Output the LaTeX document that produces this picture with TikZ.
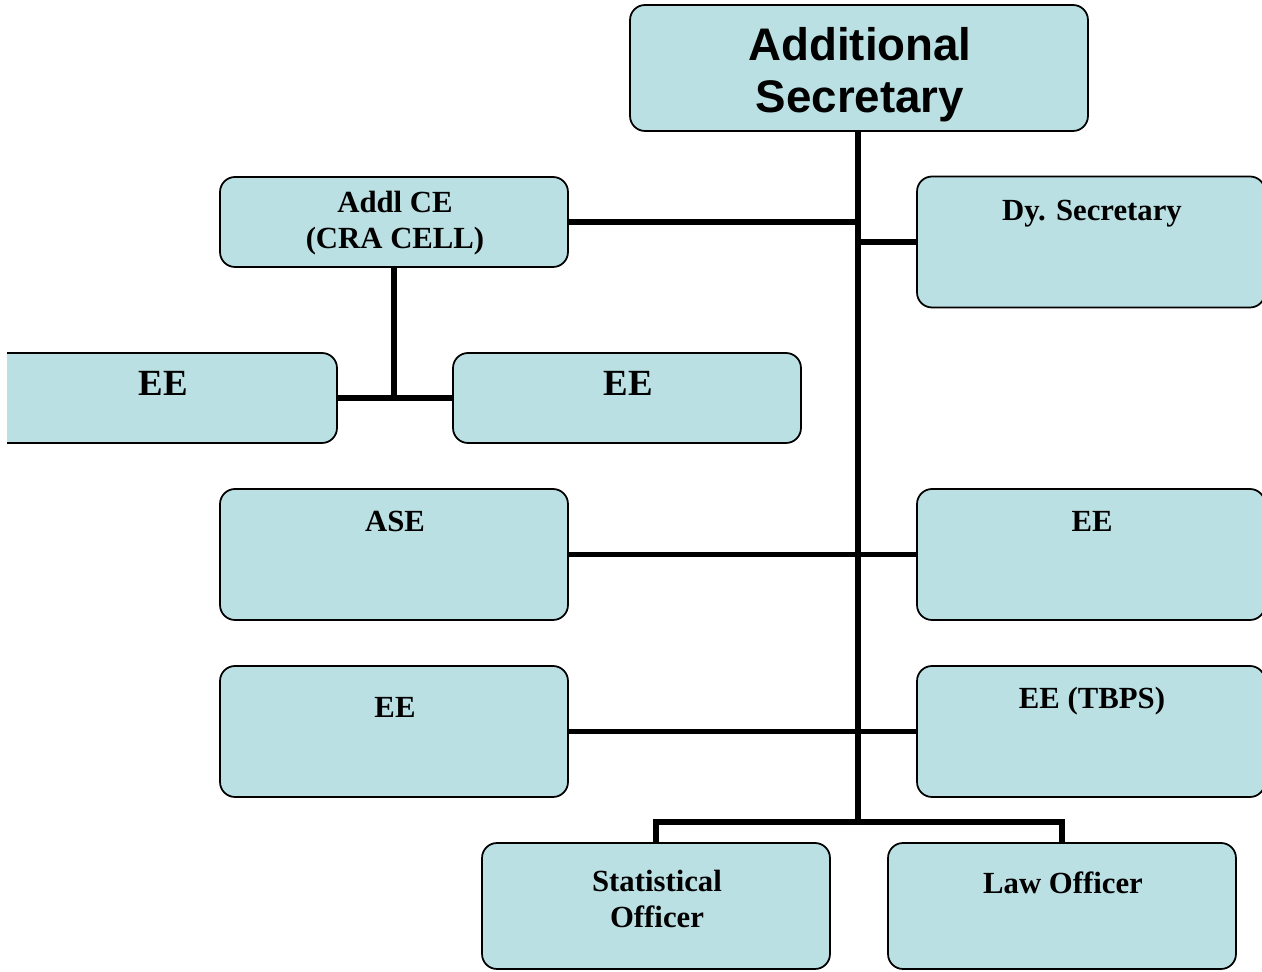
\documentclass[tikz,border=0pt]{standalone}
\usepackage{fontspec}
\setmainfont{Liberation Serif}
\newfontfamily\headfont{Liberation Sans}
\usepackage{tikz}
\usepackage{xcolor}
\usetikzlibrary{positioning}

\definecolor{boxfill}{HTML}{BAE0E3}
\tikzset{
    orgbox/.style={draw, line width=1pt, fill=boxfill, rounded corners=8.5pt, minimum width=6.96cm, minimum height=2.62cm, inner sep=0pt},
    lowbox/.style={orgbox, minimum height=1.8cm},
    txt/.style={font=\bfseries\fontsize{17.5}{20.5}\selectfont, align=center, inner sep=0pt},
    bigtxt/.style={font=\bfseries\fontsize{21}{24}\selectfont, inner sep=0pt, anchor=base},
    link/.style={line width=3pt}
}

\begin{document}
\begin{tikzpicture}[x=0.02cm, y=-0.02cm]
        \useasboundingbox (0, 0) rectangle (1262, 972);
        \clip (7, 0) rectangle (1262, 972);

        % boxes
        \node[orgbox, minimum width=9.16cm, minimum height=2.52cm] (addsec) at (859, 68) {};
        \node[lowbox] (addlce) at (394, 222) {};
        \node[orgbox] (dysec) at (1091, 242) {};
        \node[lowbox] (eea) at (163, 398) {};
        \node[lowbox] (eeb) at (627, 398) {};
        \node[orgbox] (ase) at (394, 554.5) {};
        \node[orgbox] (eer) at (1091, 554.5) {};
        \node[orgbox] (eel) at (394, 731.5) {};
        \node[orgbox] (tbps) at (1091, 731.5) {};
        \node[orgbox, minimum height=2.52cm] (stat) at (656, 906) {};
        \node[orgbox, minimum height=2.52cm] (law) at (1062, 906) {};

        % texts
        \node[font=\headfont\bfseries\fontsize{26}{29.5}\selectfont, align=center, inner sep=0pt] (addsectxt) at (860, 75) {Additional\\Secretary};
        \node[txt] (addlcetxt) at (395, 223) {Addl CE\\(CRA CELL)};
        \node[txt, anchor=base] (dysectxt) at (1092, 221) {Dy. Secretary};
        \node[bigtxt] (eeatxt) at (163, 396) {EE};
        \node[bigtxt] (eebtxt) at (628, 396) {EE};
        \node[txt, anchor=base] (asetxt) at (395, 532) {ASE};
        \node[txt, anchor=base] (eertxt) at (1092, 532) {EE};
        \node[txt, anchor=base] (eeltxt) at (395, 718) {EE};
        \node[txt, anchor=base] (tbpstxt) at (1092, 709) {EE (TBPS)};
        \node[txt] (stattxt) at (657, 899) {Statistical\\Officer};
        \node[txt, anchor=base] (lawtxt) at (1063, 894) {Law Officer};

        % connectors
        \coordinate (bus) at (858, 822);
        \draw[link] (addsec.south -| bus) -- (bus);
        \draw[link] (addlce.east) -- (addlce.east -| bus);
        \draw[link] (dysec.west) -- (dysec.west -| bus);
        \draw[link] (addlce.south) -- (addlce.south |- eea.east);
        \draw[link] (eea.east) -- (eeb.west);
        \draw[link] (ase.east) -- (eer.west);
        \draw[link] (eel.east) -- (tbps.west);
        \draw[link] (stat.north) |- (bus) -| (law.north);
    \end{tikzpicture}
\end{document}
